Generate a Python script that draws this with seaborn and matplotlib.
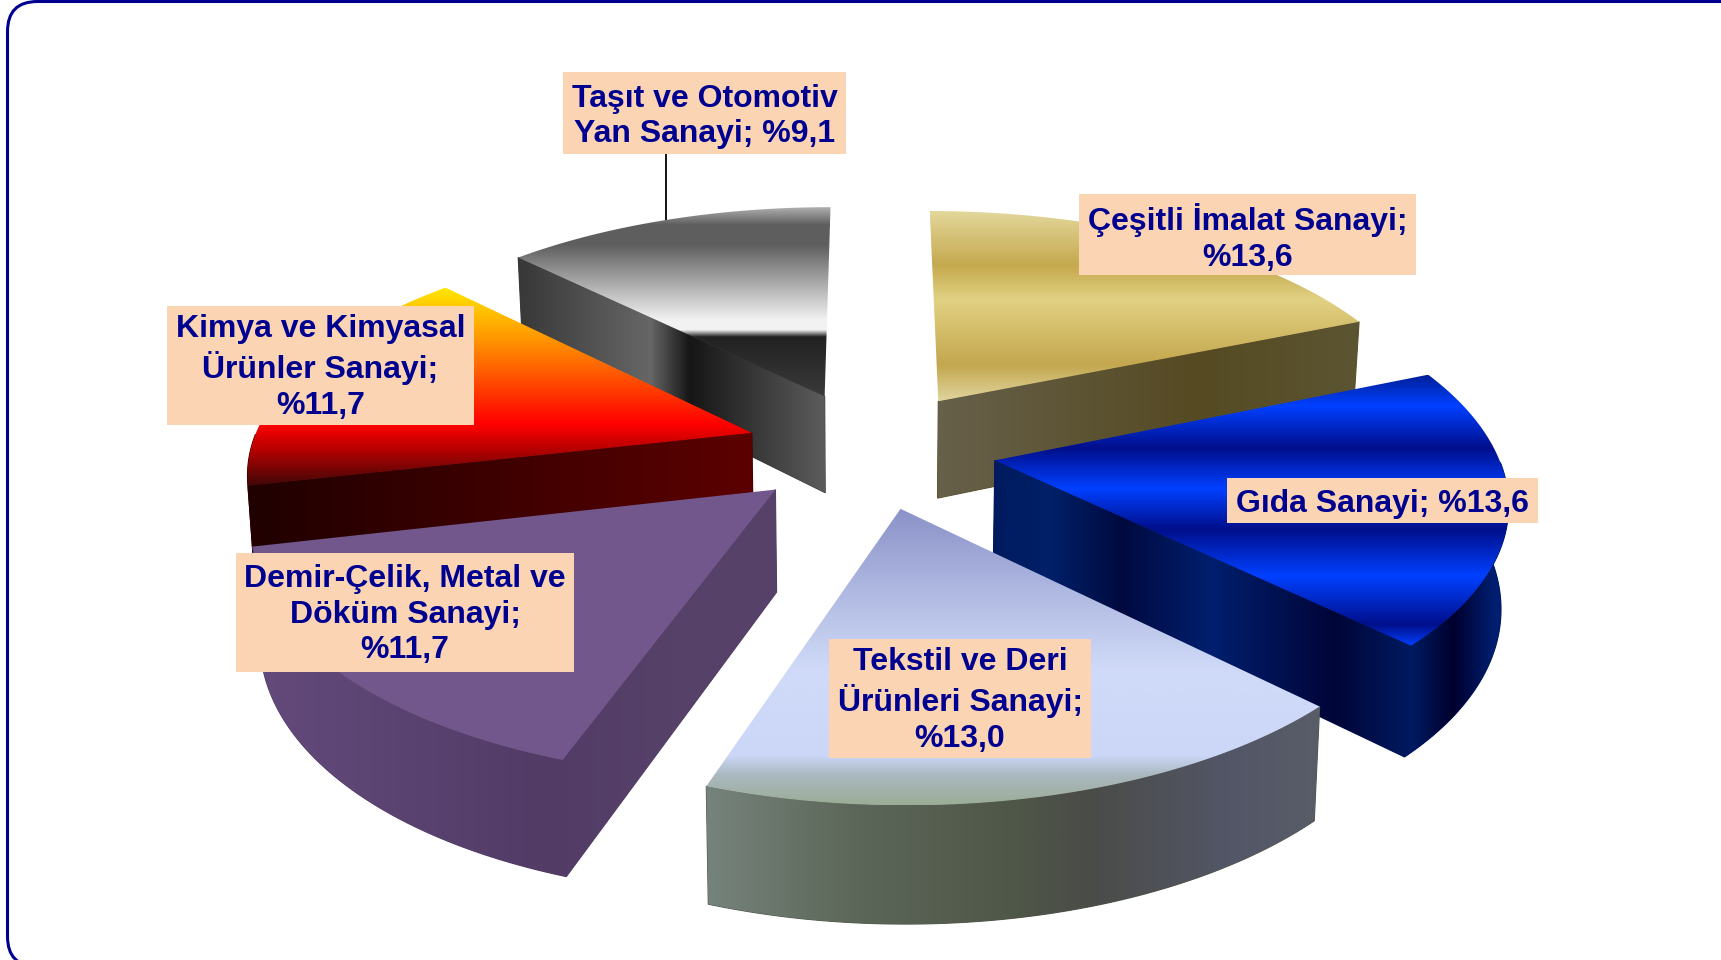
import numpy as np
import matplotlib
matplotlib.use('Agg')
import matplotlib.pyplot as plt
from matplotlib.patches import Polygon, Rectangle, FancyBboxPatch
import seaborn as sns

# Sector shares, clockwise from the top of the pie
sectors = ['Çeşitli İmalat Sanayi', 'Gıda Sanayi', 'Tekstil ve Deri Ürünleri Sanayi',
           'Demir-Çelik, Metal ve Döküm Sanayi', 'Kimya ve Kimyasal Ürünler Sanayi',
           'Taşıt ve Otomotiv Yan Sanayi']
shares = [13.6, 13.6, 13.0, 11.7, 11.7, 9.1]
labels = ['Çeşitli İmalat Sanayi;\n%13,6', 'Gıda Sanayi; %13,6',
          'Tekstil ve Deri\nÜrünleri Sanayi;\n%13,0',
          'Demir-Çelik, Metal ve\nDöküm Sanayi;\n%11,7',
          'Kimya ve Kimyasal\nÜrünler Sanayi;\n%11,7',
          'Taşıt ve Otomotiv\nYan Sanayi; %9,1']

# Label boxes in picture pixels (left, right, top, bottom)
boxes = [(1079, 1416, 194, 275), (1227, 1538, 478, 523), (829, 1091, 639, 758),
         (236, 574, 553, 672), (167, 474, 306, 425), (563, 846, 72, 154)]

# Gradient stops (position, colour) for the top faces, running downwards
top_stops = [
    [(0, '#e3d89c'), (.29, '#c5a94f'), (.47, '#e1d182'), (.81, '#c4a74f'), (1, '#e0d49e')],
    [(0, '#00209a'), (.115, '#0040ff'), (.27, '#000f8c'), (.42, '#0040ff'), (.57, '#000f8c'),
     (.74, '#0040ff'), (.92, '#000f8c'), (1, '#0040ff')],
    [(0, '#8a92c8'), (.38, '#bcc6ea'), (.55, '#d0daf8'), (.83, '#ccd7f8'), (.9, '#aab8bf'), (1, '#9bad96')],
    [(0, '#72578c'), (1, '#72578c')],
    [(0, '#ffe800'), (.25, '#ff9900'), (.69, '#ff0000'), (.8, '#c00000'), (1, '#400808')],
    [(0, '#b4b4b4'), (.1, '#5e5e5e'), (.2, '#5e5e5e'), (.6, '#f2f2f2'), (.65, '#f2f2f2'),
     (.69, '#222222'), (1, '#3a3a3a')],
]
# Gradient stops for the side faces, running left to right
side_stops = [
    [(0, '#67604a'), (.62, '#554a22'), (1, '#5c5532')],
    [(0, '#001a5e'), (.11, '#002068'), (.25, '#000a40'), (.42, '#001f6e'), (.66, '#000538'),
     (.81, '#001a60'), (.89, '#00002e'), (.97, '#001e70'), (1, '#001e70')],
    [(0, '#76837c'), (.25, '#5c6658'), (.5, '#4f5748'), (.62, '#4a4c48'), (.85, '#535666'), (1, '#595d68')],
    [(0, '#634a7c'), (.55, '#523c66'), (.8, '#564169'), (1, '#564169')],
    [(0, '#200000'), (1, '#5c0000')],
    [(0, '#383838'), (.43, '#666666'), (.56, '#161616'), (1, '#5c5c5c')],
]

# Projection of the exploded pie
CX, CY = 871, 449
AX, AY = 501, 232
PERSP = .15
EXPLODE_X, EXPLODE_Y = .25, .255
DEPTH = 100
NAVY = '#000090'


def project(u, v):
    s = 1 / (1 + PERSP * v)
    return CX + AX * u * s, CY - AY * v * s


def drop(x, v):
    # the same point on the underside of the slice
    return CX + (x - CX) * .988, DEPTH * (1 - .15 * v)


def ramp(stops, n=512):
    cols = []
    for (p1, c1), (p2, c2) in zip(stops[:-1], stops[1:]):
        cols += sns.blend_palette([c1, c2], n_colors=max(2, int(n * (p2 - p1))))
    return np.array(cols)


def fill(ax, pts, stops, extent, vertical):
    grad = ramp(stops)
    img = grad[:, None, :] if vertical else grad[None, :, :]
    left, right, top, bottom = extent
    im = ax.imshow(img, extent=(left, right, bottom, top), aspect='auto',
                   origin='upper', interpolation='bilinear', zorder=2)
    im.set_clip_path(Polygon(pts, closed=True, transform=ax.transData))


sns.set_theme(style='white')
plt.rcParams['font.family'] = ['Liberation Sans', 'DejaVu Sans']

fig, ax = plt.subplots(figsize=(17.21, 9.6), dpi=100)
fig.subplots_adjust(0, 0, 1, 1)
ax.axis('off')

ax.add_patch(FancyBboxPatch((7.5, 1.5), 1780, 965, boxstyle='round,pad=0,rounding_size=30',
                            fc='white', ec=NAVY, lw=2.2, zorder=1))

fracs = np.array(shares) / np.sum(shares)
ends = np.cumsum(fracs) * 2 * np.pi
starts = ends - fracs * 2 * np.pi
mids = (starts + ends) / 2

# Leader of the Taşıt label, its lower end is hidden under the slice
ax.plot([666, 666], [boxes[5][3], 240], color='black', lw=1.3, zorder=1.5)

for i in np.argsort(-np.cos(mids)):
    ox, oy = np.sin(mids[i]) * EXPLODE_X, np.cos(mids[i]) * EXPLODE_Y
    t = np.linspace(starts[i], ends[i], 120)
    xr, yr = project(ox + np.sin(t), oy + np.cos(t))
    vr = oy + np.cos(t)
    xa, ya = project(ox, oy)

    faces = []
    # radial cuts turned towards the viewer
    if np.sin(starts[i]) < -1e-6:
        faces.append(([xa, xr[0]], [ya, yr[0]], [oy, vr[0]]))
    if np.sin(ends[i]) > 1e-6:
        faces.append(([xa, xr[-1]], [ya, yr[-1]], [oy, vr[-1]]))
    # front part of the rim
    front = np.cos(t) < 0
    if front.any():
        faces.append((list(xr[front]), list(yr[front]), list(vr[front])))

    side_polys = []
    for fx, fy, fv in faces:
        fx, fy, fv = np.array(fx), np.array(fy), np.array(fv)
        bx, by = drop(fx, fv)
        side_polys.append(np.vstack([np.c_[fx, fy], np.c_[bx, fy + by][::-1]]))
    if side_polys:
        every = np.vstack(side_polys)
        extent = (every[:, 0].min(), every[:, 0].max(), every[:, 1].min(), every[:, 1].max())
        # flat underlay hides the hairline where two clipped faces meet
        under = ramp(side_stops[i])[256]
        for poly in side_polys:
            ax.add_patch(Polygon(poly, closed=True, fc=under, ec=under, lw=.8, zorder=2))
        for poly in side_polys:
            fill(ax, poly, side_stops[i], extent, False)

    top = np.vstack([[xa, ya], np.c_[xr, yr]])
    extent = (top[:, 0].min(), top[:, 0].max(), top[:, 1].min(), top[:, 1].max())
    fill(ax, top, top_stops[i], extent, True)

for (l, r, t, b), text in zip(boxes, labels):
    ax.add_patch(Rectangle((l, t), r - l, b - t, fc='#fbd4b4', ec='none', zorder=5))
    shift = 2 if text.count('\n') == 2 else 3.5
    ax.text((l + r) / 2, (t + b) / 2 + shift, text, color=NAVY, fontsize=23, fontweight='bold',
            ha='center', va='center', linespacing=1.26, zorder=6)

ax.set_xlim(0, 1721)
ax.set_ylim(960, 0)
fig.savefig('out.png', dpi=100, facecolor='white')
